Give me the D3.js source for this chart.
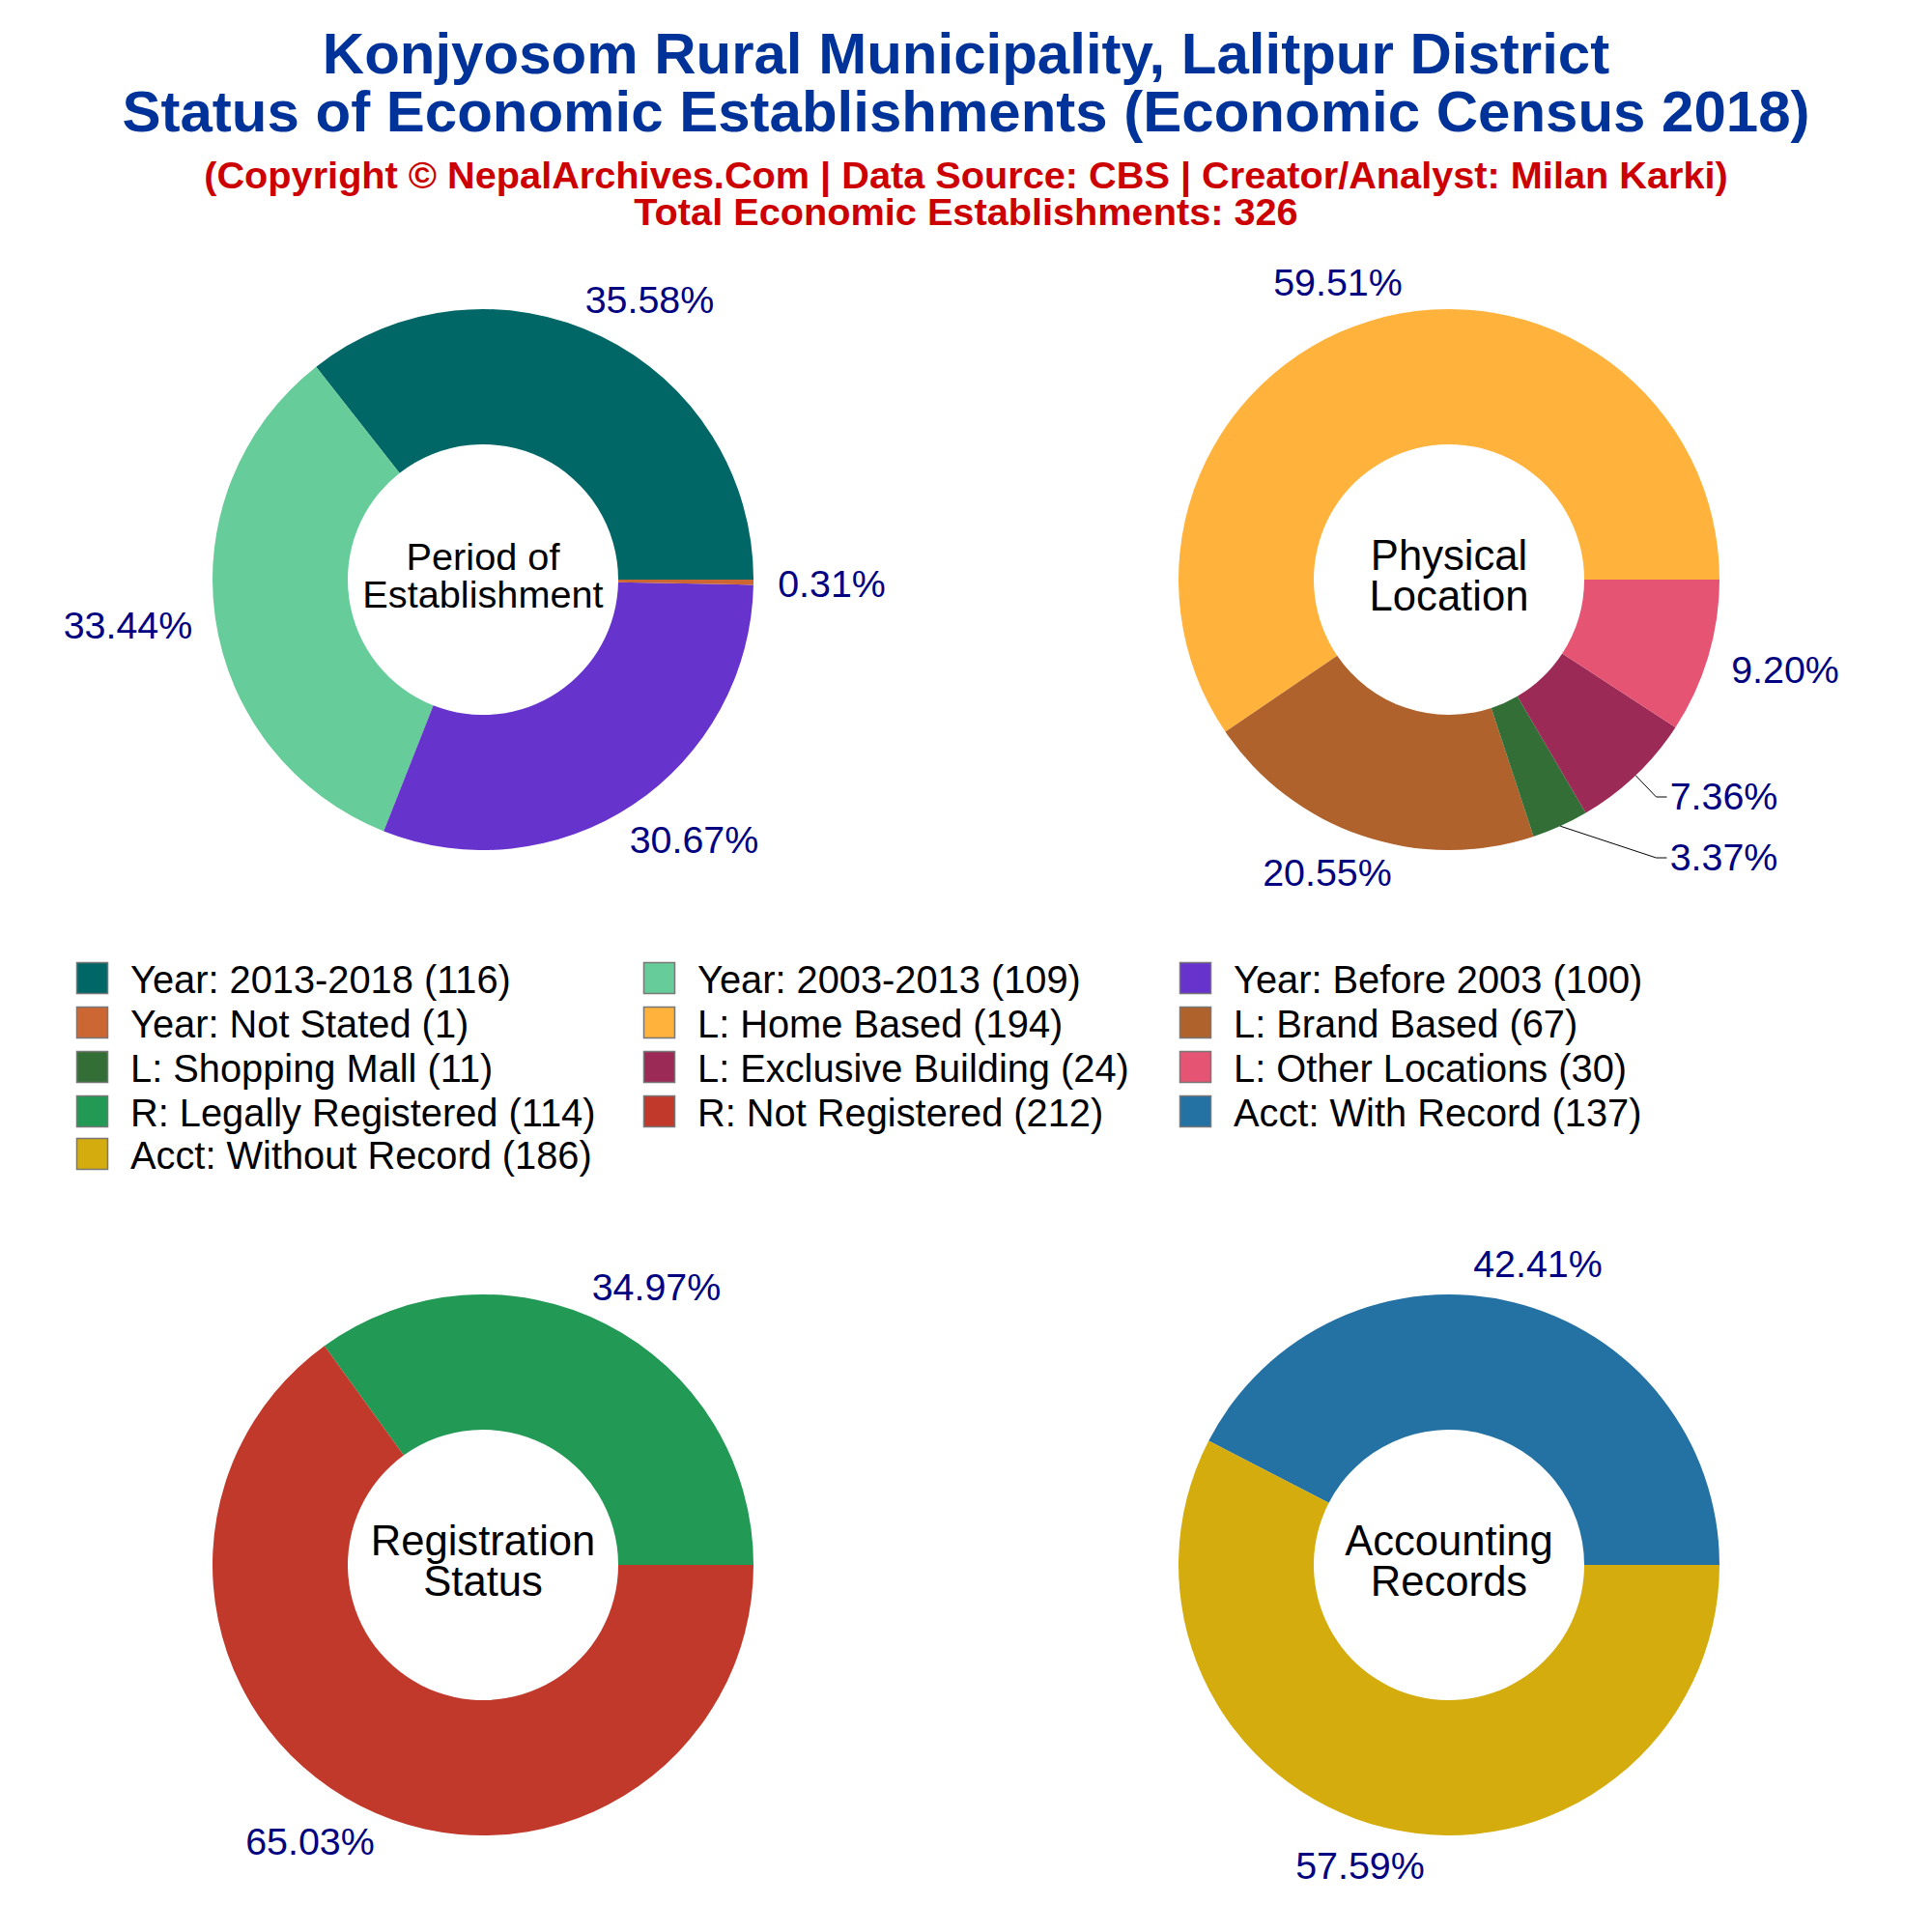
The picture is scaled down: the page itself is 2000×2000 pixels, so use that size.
<!DOCTYPE html>
<html>
<head>
<meta charset="utf-8">
<script src="https://cdn.jsdelivr.net/npm/d3@7"></script>
<style>
  body { margin: 0; background: #fff; }
  text { font-family: "Liberation Sans", Arial, sans-serif; }
</style>
</head>
<body>
<svg id="chart" width="2000" height="2000"></svg>
<script>
'use strict';

/*
    Data
*/

const periodLabels = ['Year: 2013-2018', 'Year: 2003-2013', 'Year: Before 2003', 'Year: Not Stated'];
const periodValues = [116, 109, 100, 1];

const locationLabels = ['L: Home Based', 'L: Brand Based', 'L: Shopping Mall', 'L: Exclusive Building', 'L: Other Locations'];
const locationValues = [194, 67, 11, 24, 30];

const registrationLabels = ['R: Legally Registered', 'R: Not Registered'];
const registrationValues = [114, 212];

const accountLabels = ['Acct: With Record', 'Acct: Without Record'];
const accountValues = [137, 186];

/*
    Constants
*/

const SVG = d3.select('#chart');

const RADIUS = Object.freeze({ OUTER: 280, INNER: 140 });

const PERIOD_COLORS = ['#006666', '#66CC99', '#6633CC', '#CC6633'];
const LOCATION_COLORS = ['#FFB33C', '#B0622C', '#336E36', '#9C2A56', '#E55473'];
const REGISTRATION_COLORS = ['#229955', '#C0392B'];
const ACCOUNT_COLORS = ['#2471A3', '#D4AC0D'];

// label centres relative to each pie centre, as placed in the picture
const PIES = [
    { cx: 500, cy: 600, labels: periodLabels, values: periodValues, colors: PERIOD_COLORS,
      title: ['Period of', 'Establishment'], titleSize: 39.7, titleY: [-10, 29],
      offsets: [[172.5, -290], [-367.5, 47], [218.5, 269], [361, 4]] },
    { cx: 1500, cy: 600, labels: locationLabels, values: locationValues, colors: LOCATION_COLORS,
      title: ['Physical', 'Location'], titleSize: 43.6, titleY: [-10.5, 31.5],
      offsets: [[-115, -308], [-126, 303], [284.5, 287.5], [284.5, 224.5], [348, 93]],
      leaders: [2, 3] },
    { cx: 500, cy: 1620, labels: registrationLabels, values: registrationValues, colors: REGISTRATION_COLORS,
      title: ['Registration', 'Status'], titleSize: 43.6, titleY: [-10.5, 31.5],
      offsets: [[179.5, -288], [-179, 286]] },
    { cx: 1500, cy: 1620, labels: accountLabels, values: accountValues, colors: ACCOUNT_COLORS,
      title: ['Accounting', 'Records'], titleSize: 43.6, titleY: [-10.5, 31.5],
      offsets: [[92, -312], [-92, 311]] }
];

const LEGEND_COLUMNS = [79.5, 666.5, 1221.5];
const LEGEND_ROWS = [996.5, 1042.5, 1088.5, 1134.5, 1178.5];

const pie = d3.pie()
                .sort(null)
                .value(d => d)
                .startAngle(Math.PI / 2)
                .endAngle(Math.PI / 2 - 2 * Math.PI);

const arc = d3.arc()
                .innerRadius(RADIUS.INNER)
                .outerRadius(RADIUS.OUTER);

/*
    Titles
*/

const TITLES = [
    { text: 'Konjyosom Rural Municipality, Lalitpur District', x: 1000, y: 76, size: 60, color: '#003399' },
    { text: 'Status of Economic Establishments (Economic Census 2018)', x: 1000, y: 136, size: 60, color: '#003399' },
    { text: '(Copyright © NepalArchives.Com | Data Source: CBS | Creator/Analyst: Milan Karki)', x: 1000, y: 195, size: 39.7, color: '#CC0000' },
    { text: 'Total Economic Establishments: 326', x: 1000, y: 233, size: 39.7, color: '#CC0000' }
];

SVG.selectAll('text.title')
    .data(TITLES)
    .join('text')
      .attr('class', 'title')
      .attr('x', d => d.x)
      .attr('y', d => d.y)
      .attr('text-anchor', 'middle')
      .attr('font-weight', 'bold')
      .attr('font-size', d => d.size)
      .attr('fill', d => d.color)
      .text(d => d.text);

/*
    Pies
*/

PIES.forEach(setUpPie);
setUpLegend();

function setUpPie(config) {

    const total = d3.sum(config.values);
    const slices = pie(config.values);
    const group = SVG.append('g')
                       .attr('transform', `translate(${config.cx},${config.cy})`);

    group.selectAll('path.slice')
        .data(slices)
        .join('path')
          .attr('class', 'slice')
          .attr('d', arc)
          .attr('fill', (d, i) => config.colors[i]);

    // Leader lines for the two labels that were pushed away from their slice
    (config.leaders || []).forEach(i => {
        const mid = (slices[i].startAngle + slices[i].endAngle) / 2;
        const start = [RADIUS.OUTER * Math.sin(mid), -RADIUS.OUTER * Math.cos(mid)];
        const labelX = config.offsets[i][0];
        const labelY = config.offsets[i][1] + 0.5;
        group.append('path')
               .attr('d', d3.line()([start, [labelX - 70, labelY], [labelX - 59, labelY]]))
               .attr('fill', 'none')
               .attr('stroke', '#000')
               .attr('stroke-width', 1);
    });

    group.selectAll('text.pct')
        .data(config.values)
        .join('text')
          .attr('class', 'pct')
          .attr('x', (d, i) => config.offsets[i][0])
          .attr('y', (d, i) => config.offsets[i][1])
          .attr('dy', '0.35em')
          .attr('text-anchor', 'middle')
          .attr('font-size', 39.4)
          .attr('fill', '#000080')
          .text(d => (d / total * 100).toFixed(2) + '%');

    group.selectAll('text.center')
        .data(config.title)
        .join('text')
          .attr('class', 'center')
          .attr('x', 0)
          .attr('y', (d, i) => config.titleY[i])
          .attr('text-anchor', 'middle')
          .attr('font-size', config.titleSize)
          .attr('fill', '#000')
          .text(d => d);
}

/*
    Legend
*/

function setUpLegend() {

    const items = [];
    PIES.forEach(config => {
        config.labels.forEach((label, i) => {
            items.push({ label: `${label} (${config.values[i]})`, color: config.colors[i] });
        });
    });

    const rows = SVG.selectAll('g.legend')
        .data(items)
        .join('g')
          .attr('class', 'legend')
          .attr('transform', (d, i) =>
              `translate(${LEGEND_COLUMNS[i % 3]},${LEGEND_ROWS[Math.floor(i / 3)]})`);

    rows.append('rect')
          .attr('width', 32)
          .attr('height', 32)
          .attr('fill', d => d.color)
          .attr('stroke', '#777')
          .attr('stroke-width', 1.5);

    rows.append('text')
          .attr('x', 55.5)
          .attr('y', 31)
          .attr('font-size', 39.8)
          .attr('fill', '#000')
          .text(d => d.label);
}
</script>
</body>
</html>
